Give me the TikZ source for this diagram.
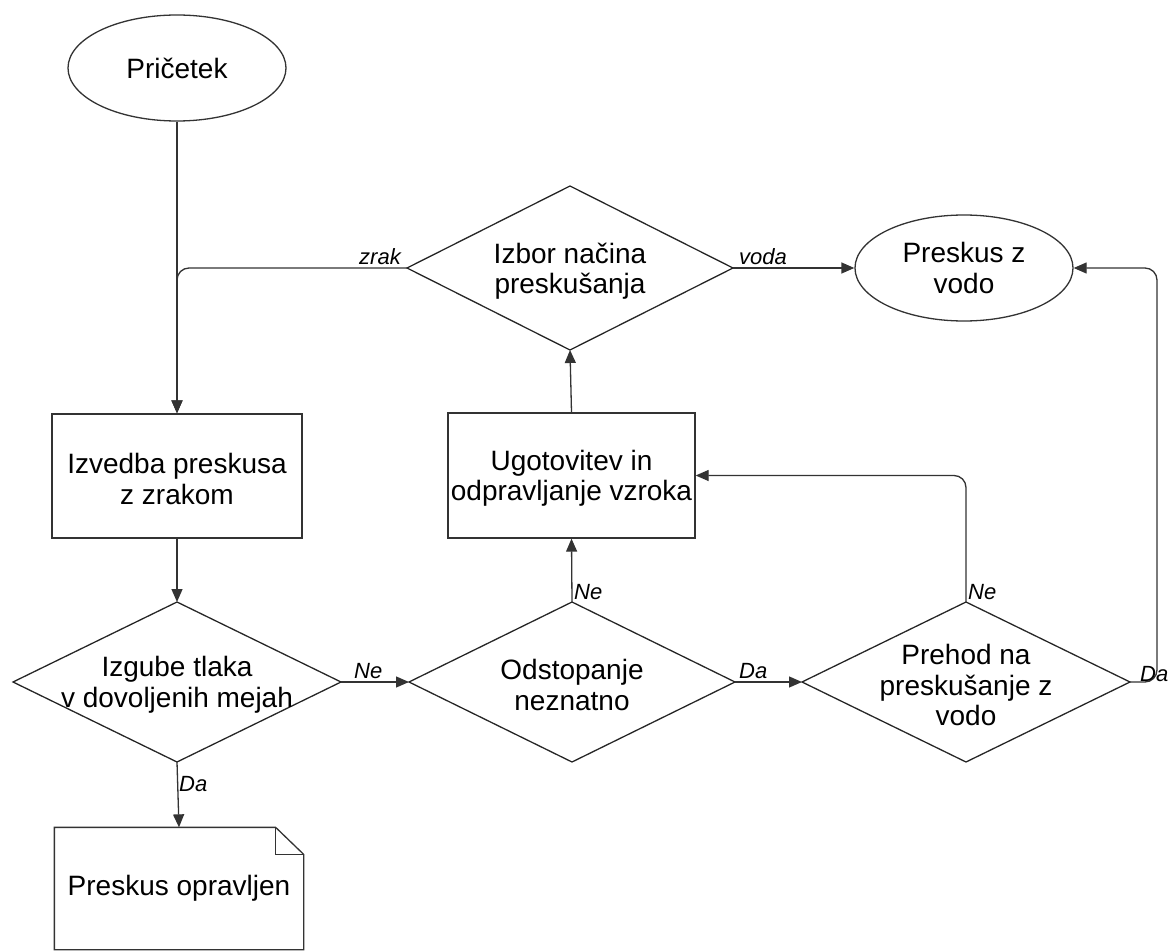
\documentclass[tikz,border=0pt]{standalone}
\usepackage{fontspec}
\setmainfont{Liberation Sans}
\usetikzlibrary{shapes.geometric,arrows.meta,calc}
\begin{document}
\begin{tikzpicture}[x=1pt,y=-1pt,
  every node/.style={font=\fontsize{28}{30.5}\selectfont},
  conn/.style={draw=black!80,line width=1.3pt},
  arr/.style={conn,-{Triangle[length=13pt,width=11pt]}},
  ell/.style={ellipse,draw=black!80,line width=1.3pt,minimum width=218pt,minimum height=106pt,inner sep=1pt,align=center},
  box/.style={rectangle,draw=black!80,line width=1.3pt,inner sep=0pt},
  dia/.style={diamond,draw=black!85,line width=1.3pt,inner sep=0pt,outer sep=0pt},
  inner/.style={align=center,font=\fontsize{28}{30.5}\selectfont,yshift=-3pt},
  lab/.style={font=\fontsize{22}{24}\selectfont\itshape,inner sep=2pt}
]
\useasboundingbox (0,0) rectangle (1168,952);

% nodes
\node[ell] (start) at (177,68) {Pričetek};
\node[box,minimum width=250pt,minimum height=124pt,
  label={[inner]center:{Izvedba preskusa\\z zrakom}}] (izv) at (177,476) {};
\node[dia,minimum width=328pt,minimum height=160pt,
  label={[inner]center:{Izgube tlaka\\v dovoljenih mejah}}] (izg) at (177,682) {};
\node[box,draw=none,minimum width=248pt,minimum height=121pt] (doc) at (179,888.5) {Preskus opravljen};
\node[dia,minimum width=326pt,minimum height=164pt,
  label={[inner]center:{Izbor načina\\preskušanja}}] (izb) at (570,268) {};
\node[ell] (vodo) at (964,268) {Preskus z\\vodo};
\node[box,minimum width=247pt,minimum height=125pt,
  label={[inner]center:{Ugotovitev in\\odpravljanje vzroka}}] (ugo) at (571.5,475.5) {};
\node[dia,minimum width=326pt,minimum height=160pt,
  label={[inner]center:{Odstopanje\\neznatno}}] (ods) at (572,682) {};
\node[dia,minimum width=328pt,minimum height=160pt,
  label={[inner]center:{Prehod na\\preskušanje z\\vodo}}] (pre) at (966,682) {};

% document shape with folded corner
\draw[conn,line join=miter]
  (doc.north west) -- ($(doc.north east)+(-28,0)$) -- ($(doc.north east)+(0,27)$)
  -- (doc.south east) -- (doc.south west) -- cycle;
\draw[conn] ($(doc.north east)+(-28,0)$) -- ($(doc.north east)+(-28,27)$) -- ($(doc.north east)+(0,27)$);

% connectors
\draw[arr] (start.south) -- (izv.north);
\draw[arr,rounded corners=12pt] (izb.west) -| (izv.north);
\node[lab,anchor=south east] (lzrak) at ($(izb.west)+(-4,-1)$) {zrak};
\draw[arr] (izv.south) -- (izg.north);
\draw[arr] (izg.south) -- (doc.north);
\node[lab,anchor=west] (lda1) at ($(izg.south)+(0,22)$) {Da};
\draw[arr] (izg.east) -- (ods.west);
\node[lab,anchor=south] (lne1) at ($(izg.east)!0.4!(ods.west)+(0,-1)$) {Ne};
\draw[arr] (ods.north) -- (ugo.south);
\node[lab,anchor=south west] (lne2) at ($(ods.north)+(0,0)$) {Ne};
\draw[arr] (ugo.north) -- (izb.south);
\draw[arr] (izb.east) -- (vodo.west);
\node[lab,anchor=south west] (lvoda) at ($(izb.east)+(4,-1)$) {voda};
\draw[arr] (ods.east) -- (pre.west);
\node[lab,anchor=south west] (lda2) at ($(ods.east)+(2,-1)$) {Da};
\draw[arr,rounded corners=12pt] (pre.north) |- (ugo.east);
\node[lab,anchor=south west] (lne3) at (pre.north) {Ne};
\coordinate (rt) at (1157,682);
\draw[arr,rounded corners=12pt] (pre.east) -- (rt) |- (vodo.east);
\node[lab,anchor=south west] (lda3) at ($(pre.east)+(8,2)$) {Da};
\end{tikzpicture}
\end{document}
